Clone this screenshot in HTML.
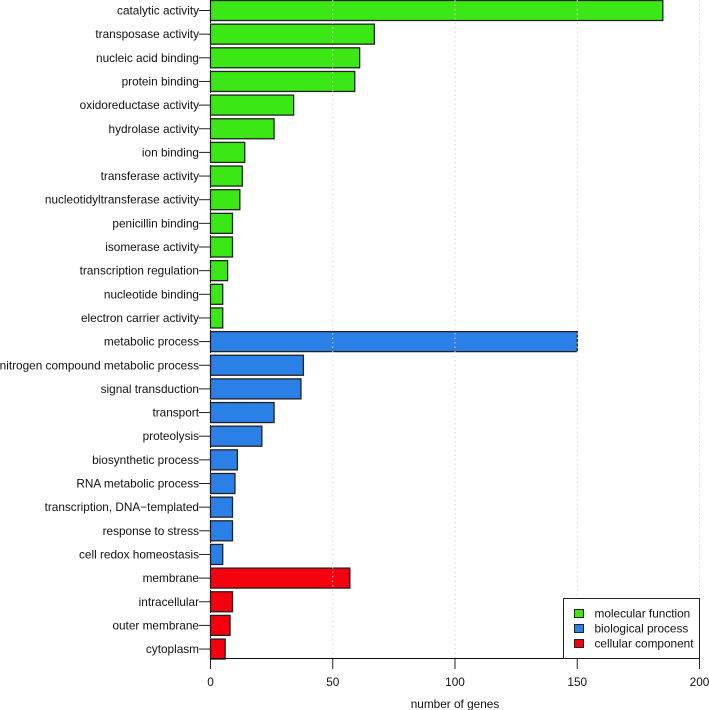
<!DOCTYPE html>
<html>
<head>
<meta charset="utf-8">
<style>
html,body{margin:0;padding:0;background:#fff;width:709px;height:710px;overflow:hidden}
svg{display:block}
text{font-family:"Liberation Sans",Arial,sans-serif;font-size:11.8px;fill:#111}
</style>
</head>
<body>
<svg id="chart" width="709" height="710" viewBox="0 0 709 710" xmlns="http://www.w3.org/2000/svg"></svg>
<script>
const categories = ["catalytic activity","transposase activity","nucleic acid binding","protein binding","oxidoreductase activity","hydrolase activity","ion binding","transferase activity","nucleotidyltransferase activity","penicillin binding","isomerase activity","transcription regulation","nucleotide binding","electron carrier activity","metabolic process","nitrogen compound metabolic process","signal transduction","transport","proteolysis","biosynthetic process","RNA metabolic process","transcription, DNA\u2212templated","response to stress","cell redox homeostasis","membrane","intracellular","outer membrane","cytoplasm"];
const values = [185,67,61,59,34,26,14,13,12,9,9,7,5,5,150,38,37,26,21,11,10,9,9,5,57,9,8,6];
const groups = ["mf","mf","mf","mf","mf","mf","mf","mf","mf","mf","mf","mf","mf","mf","bp","bp","bp","bp","bp","bp","bp","bp","bp","bp","cc","cc","cc","cc"];
const groupKeys = ["mf","bp","cc"];
const groupLabels = ["molecular function","biological process","cellular component"];
const groupColors = ["#3be816","#2a80e6","#f5000f"];
const xTicks = [0,50,100,150,200];

const svg = document.getElementById('chart');
const NS = 'http://www.w3.org/2000/svg';
const plot = {x0:210.5, x1:699.5, top:0.5, step:23.65, barH:20, base:658.5};
const xScale = v => plot.x0 + (plot.x1 - plot.x0) * v / 200;
const yCenter = i => plot.top + plot.barH / 2 + i * plot.step;

function add(tag, attrs, parent) {
  const el = document.createElementNS(NS, tag);
  for (const k in attrs) el.setAttribute(k, attrs[k]);
  (parent || svg).appendChild(el);
  return el;
}

// bars
categories.forEach((c, i) => {
  const y = yCenter(i);
  const color = groupColors[groupKeys.indexOf(groups[i])];
  const bar = add('rect', {x:xScale(0), y:y - plot.barH / 2, width:xScale(values[i]) - xScale(0), height:plot.barH, fill:color, stroke:'#222', 'stroke-width':1.3});
  
  

  const tick = add('line', {x1:199, x2:xScale(0), y1:y, y2:y, stroke:'#222', 'stroke-width':1});
  
  

  const label = add('text', {x:199, y:y + 4, 'text-anchor':'end'});
  label.textContent = c;
  
  
});

// grid lines
xTicks.forEach(t => {
  if (t === 0) return;
  const g = add('line', {x1:xScale(t), x2:xScale(t), y1:0, y2:plot.base, stroke:'#d6d6d6', 'stroke-width':1, 'stroke-dasharray':'1.5 3'});
  
  
});

// dashed zero line
const zero = add('line', {x1:xScale(0), x2:xScale(0), y1:0, y2:plot.base, stroke:'#111', 'stroke-width':1, 'stroke-dasharray':'3 2'});



// x axis
const axis = add('line', {x1:xScale(xTicks[0]), x2:xScale(xTicks[xTicks.length - 1]), y1:plot.base, y2:plot.base, stroke:'#111', 'stroke-width':1});



xTicks.forEach(t => {
  const tk = add('line', {x1:xScale(t), x2:xScale(t), y1:plot.base, y2:669, stroke:'#222', 'stroke-width':1});
  
  
  const lb = add('text', {x:xScale(t), y:686, 'text-anchor':'middle'});
  lb.textContent = t;
  
  
});

const title = add('text', {x:455, y:708, 'text-anchor':'middle'});
title.textContent = 'number of genes';



// legend
const box = add('rect', {x:563.5, y:598.5, width:136, height:60, fill:'#fff', stroke:'#222', 'stroke-width':1});


groupLabels.forEach((g, i) => {
  const cy = 613.5 + i * 15;
  const sw = add('rect', {x:574.5, y:cy - 4, width:9, height:8, fill:groupColors[i], stroke:'#222', 'stroke-width':1});
  
  
  const t = add('text', {x:594.5, y:cy + 4});
  t.textContent = g;
  
  
});
</script>
</body>
</html>
